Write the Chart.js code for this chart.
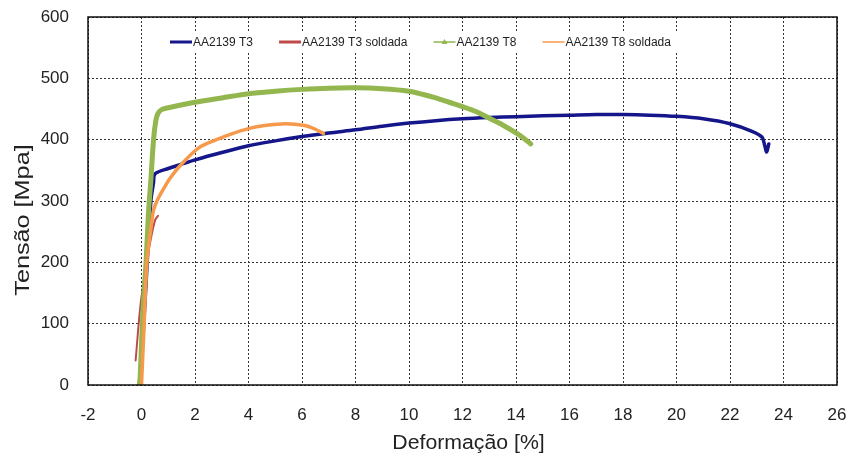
<!DOCTYPE html>
<html>
<head>
<meta charset="utf-8">
<script src="https://cdn.jsdelivr.net/npm/chart.js@4/dist/chart.umd.min.js"></script>
<style>
  html, body { margin: 0; padding: 0; background: #fff; }
  #wrap { width: 851px; height: 460px; }
</style>
</head>
<body>
<div id="wrap"><canvas id="c"></canvas></div>
<script>
/* ===== dados ===== */
const xTicks = [-2, 0, 2, 4, 6, 8, 10, 12, 14, 16, 18, 20, 22, 24, 26];
const yTicks = [0, 100, 200, 300, 400, 500, 600];

const xTitle = 'Deformação [%]';
const yTitle = 'Tensão [Mpa]';
const seriesNames = ['AA2139 T3', 'AA2139 T3 soldada', 'AA2139 T8', 'AA2139 T8 soldada'];

// AA2139 T3
const t3Def = [-0.05, 0.15, 0.35, 0.45, 0.5, 1, 1.5, 2, 3, 4, 5, 6, 7, 8, 9, 10, 11, 12, 13, 14, 15, 16, 17, 18, 19, 20, 21, 22, 22.8, 23.2, 23.3, 23.37, 23.45];
const t3Ten = [0, 150, 300, 330, 344, 353, 360, 367, 379, 390, 398, 405, 411, 416, 422, 427, 431, 434, 436, 437.5, 439, 440, 441, 441, 440, 438, 434, 426, 414, 404, 390, 380, 393];

// AA2139 T3 soldada
const t3sDef = [-0.22, -0.03, 0.25, 0.5, 0.62];
const t3sTen = [40, 133, 215, 268, 276];

// AA2139 T8
const t8Def = [-0.08, -0.05, 0.05, 0.17, 0.26, 0.35, 0.45, 0.54, 0.62, 0.75, 1, 2, 3, 4, 5, 6, 7, 8, 9, 10, 10.5, 11, 11.5, 12, 12.5, 13, 13.5, 14, 14.3, 14.55];
const t8Ten = [0, 13, 117, 199, 280, 334, 400, 432, 443, 449, 452, 461, 468, 475, 479, 482, 484, 484.5, 483, 479, 474, 468, 461, 454, 446, 435, 424, 411, 402, 393];

// AA2139 T8 soldada
const t8sDef = [0, 0.1, 0.2, 0.35, 0.45, 0.6, 0.8, 1.05, 1.45, 2.15, 2.8, 3.4, 4, 4.6, 5.4, 6.1, 6.5, 6.8];
const t8sTen = [0, 100, 200, 255, 285, 302, 318, 336, 358, 387, 400, 410, 418, 423, 426, 423, 417, 410];

/* ===== estilo ===== */
const FONT = "'Liberation Sans', Arial, sans-serif";
const COLORS = ['#14168A', '#BE4B48', '#93B64F', '#F7994A'];
const WIDTHS = [3.5, 2, 5, 3.5];
const LEG_WIDTHS = [3, 3, 1.5, 1.5];

const pts = (xs, ys) => xs.map((x, i) => ({ x, y: ys[i] }));

// Moldura em volta da área do gráfico
const frame = {
  id: 'frame',
  afterDatasetsDraw(chart) {
    const { ctx, chartArea: a } = chart;
    ctx.save();
    ctx.setLineDash([]);
    ctx.strokeStyle = '#111';
    ctx.lineWidth = 1.5;
    ctx.strokeRect(a.left, a.top, a.right - a.left, a.bottom - a.top);
    ctx.restore();
  }
};

// Títulos dos eixos (texto um pouco esticado, como no original)
const axisTitles = {
  id: 'axisTitles',
  afterDraw(chart) {
    const { ctx, chartArea: a } = chart;
    ctx.save();
    ctx.fillStyle = '#222';
    ctx.textAlign = 'center';
    ctx.textBaseline = 'middle';
    ctx.font = '19.5px ' + FONT;
    ctx.translate((a.left + a.right) / 2 + 6, a.bottom + 59);
    ctx.scale(1.09, 1);
    ctx.fillText(xTitle, 0, 0);
    ctx.restore();

    ctx.save();
    ctx.fillStyle = '#222';
    ctx.textAlign = 'center';
    ctx.textBaseline = 'middle';
    ctx.font = '21px ' + FONT;
    ctx.translate(23, 220);
    ctx.rotate(-Math.PI / 2);
    ctx.scale(1.2, 1);
    ctx.fillText(yTitle, 0, 0);
    ctx.restore();
  }
};

// Legenda dentro da área do gráfico
const insideLegend = {
  id: 'insideLegend',
  beforeDatasetsDraw(chart) {
    const { ctx, chartArea: a } = chart;
    const y = a.top + 25;
    ctx.save();
    ctx.fillStyle = '#fff';
    ctx.fillRect(a.left + 72, y - 10, 525, 20);
    ctx.font = '12px ' + FONT;
    ctx.textBaseline = 'middle';
    ctx.textAlign = 'left';
    let x = a.left + 82;
    seriesNames.forEach((name, i) => {
      ctx.strokeStyle = COLORS[i];
      ctx.lineWidth = LEG_WIDTHS[i];
      ctx.beginPath();
      ctx.moveTo(x, y);
      ctx.lineTo(x + 22, y);
      ctx.stroke();
      if (i === 2) {
        ctx.fillStyle = COLORS[i];
        ctx.beginPath();
        ctx.moveTo(x + 11, y - 3);
        ctx.lineTo(x + 14, y + 2);
        ctx.lineTo(x + 8, y + 2);
        ctx.closePath();
        ctx.fill();
      }
      ctx.fillStyle = '#222';
      ctx.fillText(name, x + 23, y + 1);
      x += 23 + ctx.measureText(name).width + 26;
    });
    ctx.restore();
  }
};

const datasets = [
  pts(t3Def, t3Ten), pts(t3sDef, t3sTen), pts(t8Def, t8Ten), pts(t8sDef, t8sTen)
].map((data, i) => ({
  label: seriesNames[i],
  data,
  borderColor: COLORS[i],
  backgroundColor: COLORS[i],
  borderWidth: WIDTHS[i],
  pointRadius: 0,
  tension: 0.3,
  showLine: true,
  fill: false,
  order: 4 - i,
  borderCapStyle: 'round',
  borderJoinStyle: 'round'
}));

const gridOpts = { color: '#333', lineWidth: 1, drawTicks: false };

new Chart(document.getElementById('c'), {
  type: 'scatter',
  data: { datasets },
  options: {
    responsive: true, maintainAspectRatio: false,
    animation: false,
    layout: { padding: { top: 17, right: 14, left: 0, bottom: 0 } },
    plugins: { legend: { display: false }, tooltip: { enabled: false } },
    scales: {
      x: {
        type: 'linear', min: xTicks[0], max: xTicks[xTicks.length - 1],
        afterBuildTicks: s => { s.ticks = xTicks.map(v => ({ value: v })); },
        grid: gridOpts,
        border: { display: false, dash: [2, 2] },
        ticks: { font: { family: FONT, size: 17 }, color: '#222', padding: 20 },
        afterFit: s => { s.height = 75; s.paddingLeft = 0; s.paddingRight = 0; }
      },
      y: {
        type: 'linear', min: yTicks[0], max: yTicks[yTicks.length - 1],
        afterBuildTicks: s => { s.ticks = yTicks.map(v => ({ value: v })); },
        grid: gridOpts,
        border: { display: false, dash: [2, 2] },
        ticks: { font: { family: FONT, size: 17 }, color: '#222', padding: 19 },
        afterFit: s => { s.width = 88; s.paddingTop = 0; s.paddingBottom = 0; }
      }
    }
  },
  plugins: [insideLegend, frame, axisTitles]
});
</script>
</body>
</html>
